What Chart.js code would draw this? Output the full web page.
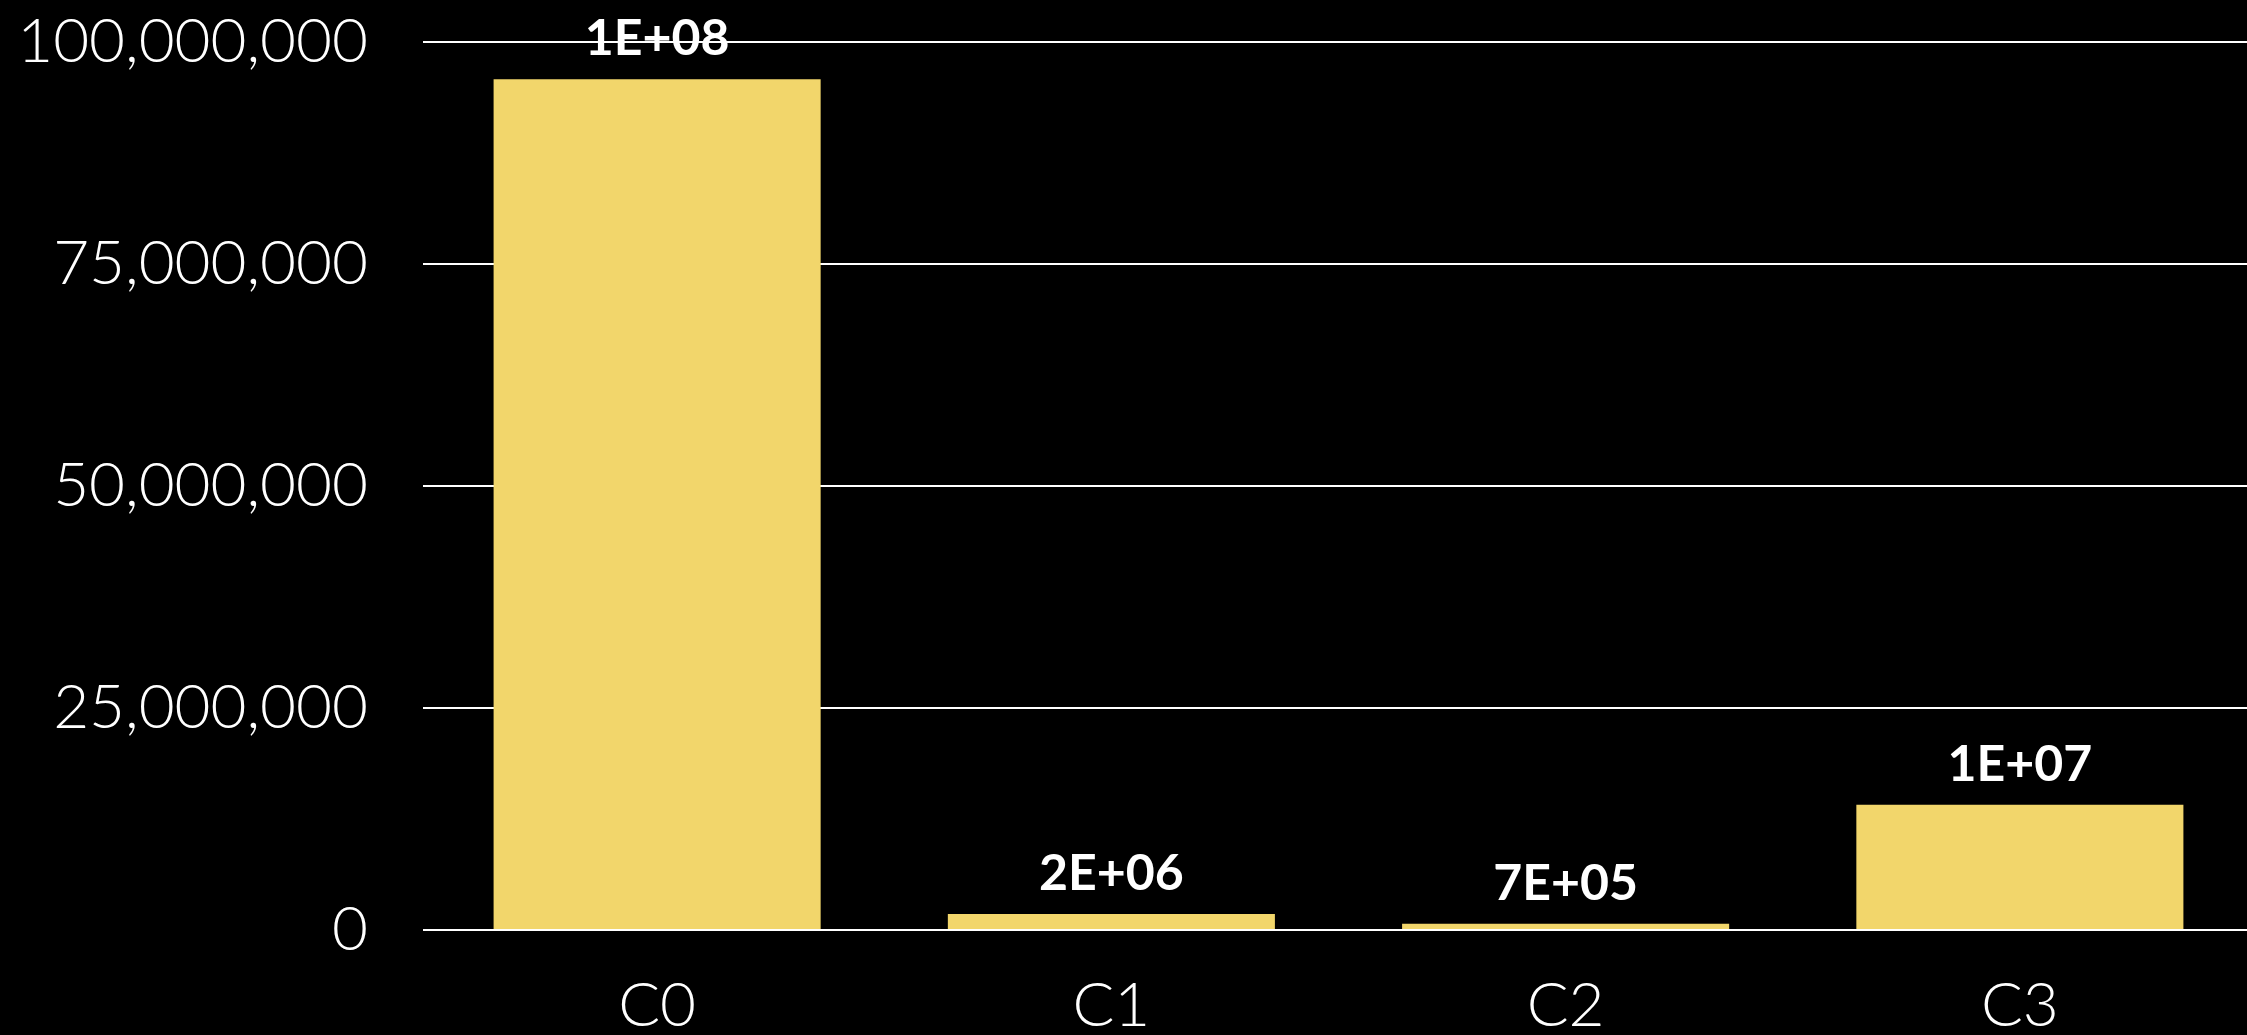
<!DOCTYPE html>
<html>
<head>
<meta charset="utf-8">
<title>Bar chart</title>
<script src="https://cdn.jsdelivr.net/npm/chart.js@4/dist/chart.umd.min.js"></script>
<style>
    html, body {
        margin: 0;
        padding: 0;
        background: #000;
    }
    #wrap {
        position: relative;
        width: 2247px;
        height: 1035px;
    }
</style>
</head>
<body>
<div id="wrap"><canvas id="barChart"></canvas></div>
<script>
const categories = ['C0', 'C1', 'C2', 'C3'];
const values = [95800000, 1800000, 700000, 14100000];
const yTicks = [0, 25000000, 50000000, 75000000, 100000000];

const barColor = '#F2D66B';

// 95800000 -> "1E+08"
function sciLabel(v) {
    const parts = v.toExponential(0).split('e');
    const sign = parts[1][0];
    const exp = parts[1].slice(1).padStart(2, '0');
    return parts[0] + 'E' + sign + exp;
}

// value labels drawn above each bar
const valueLabels = {
    id: 'valueLabels',
    afterDatasetsDraw(chart) {
        const ctx = chart.ctx;
        const meta = chart.getDatasetMeta(0);
        ctx.save();
        ctx.fillStyle = '#ffffff';
        ctx.font = 'bold 50px Lato';
        ctx.textAlign = 'center';
        ctx.textBaseline = 'middle';
        meta.data.forEach((bar, i) => {
            ctx.fillText(sciLabel(values[i]), bar.x, bar.y - 40);
        });
        ctx.restore();
    }
};

new Chart(document.getElementById('barChart'), {
    type: 'bar',
    data: {
        labels: categories,
        datasets: [{
            data: values,
            backgroundColor: barColor,
            borderWidth: 0,
            categoryPercentage: 1,
            barPercentage: 0.72
        }]
    },
    options: {
        responsive: true,
        maintainAspectRatio: false,
        animation: false,
        layout: {
            padding: { top: 42, right: -7, bottom: 0, left: 0 }
        },
        plugins: {
            legend: { display: false },
            tooltip: { enabled: false }
        },
        scales: {
            x: {
                grid: { display: false, drawTicks: false },
                border: { display: false },
                ticks: {
                    color: '#ffffff',
                    padding: 39,
                    font: { family: 'Lato', weight: '300', size: 62 }
                },
                afterFit(scale) {
                    scale.height = 105;
                }
            },
            y: {
                min: 0,
                max: 100000000,
                afterBuildTicks(scale) {
                    scale.ticks = yTicks.map(v => ({ value: v }));
                },
                grid: {
                    color: '#ffffff',
                    lineWidth: 2,
                    drawTicks: true,
                    tickLength: 7
                },
                border: { display: false },
                ticks: {
                    color: '#ffffff',
                    padding: 55,
                    font: { family: 'Lato', weight: '300', size: 62 },
                    callback: v => v.toLocaleString('en-US')
                },
                afterFit(scale) {
                    scale.width = 430;
                    scale.paddingTop = 0;
                    scale.paddingBottom = 0;
                }
            }
        }
    },
    plugins: [valueLabels]
});
</script>
</body>
</html>
